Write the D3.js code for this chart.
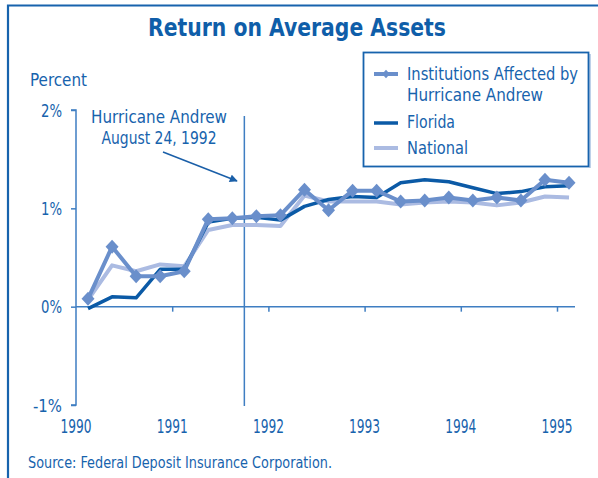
<!DOCTYPE html>
<html>
<head>
<meta charset="utf-8">
<script src="https://cdn.jsdelivr.net/npm/d3@7"></script>
<style>
  html, body { margin: 0; padding: 0; background: #ffffff; }
  svg { display: block; }
  text { font-family: 'Liberation Sans Narrow', 'DejaVu Sans Condensed', 'Roboto', sans-serif; }
</style>
</head>
<body>
<svg id="chart" width="598" height="478"></svg>
<script>
// ---- data ----
const periods = [1990.125, 1990.375, 1990.625, 1990.875, 1991.125, 1991.375, 1991.625, 1991.875,
                 1992.125, 1992.375, 1992.625, 1992.875, 1993.125, 1993.375, 1993.625, 1993.875,
                 1994.125, 1994.375, 1994.625, 1994.875, 1995.125];
const institutions = [0.08, 0.61, 0.31, 0.31, 0.36, 0.89, 0.90, 0.92, 0.93, 1.19, 0.98,
                      1.18, 1.18, 1.07, 1.08, 1.11, 1.08, 1.11, 1.08, 1.29, 1.26];
const florida = [-0.02, 0.10, 0.09, 0.38, 0.38, 0.86, 0.90, 0.91, 0.88, 1.02, 1.09,
                 1.12, 1.11, 1.26, 1.29, 1.27, 1.21, 1.15, 1.17, 1.22, 1.23];
const national = [0.07, 0.42, 0.36, 0.43, 0.41, 0.78, 0.83, 0.83, 0.82, 1.13, 1.07,
                  1.07, 1.07, 1.04, 1.06, 1.07, 1.06, 1.03, 1.06, 1.12, 1.11];
const yearTicks = [1990, 1991, 1992, 1993, 1994, 1995];
const yTicks = [-1, 0, 1, 2];
const yTickLabels = ["-1%", "0%", "1%", "2%"];
const hurricaneDate = 1991.75;
const title = "Return on Average Assets";
const seriesNames = ["Institutions Affected by|Hurricane Andrew", "Florida", "National"];

// ---- styles ----
const C_TEXT = "#1763ad";
const C_AXIS = "#3f7ec2";
const C_INST = "#6a8fcb";
const C_FLA = "#0b5aa6";
const C_NAT = "#abbbe2";

const svg = d3.select("#chart");

function txt(sel, s, x, y, size, len, anchor) {
  const t = sel.append("text")
    .attr("x", x).attr("y", y)
    .attr("fill", C_TEXT).attr("font-size", size)
    .attr("text-anchor", anchor || "start")
    .text(s);
  if (len) t.attr("textLength", len).attr("lengthAdjust", "spacingAndGlyphs");
  return t;
}

// frame
svg.append("path")
  .attr("d", "M8,478 V5.5 H598")
  .attr("fill", "none").attr("stroke", "#1763ad").attr("stroke-width", 2.2);

// title
txt(svg, title, 297, 36, 25, 298, "middle")
  .attr("fill", "#0f5ea9").attr("font-weight", "bold");

const x = d3.scaleLinear().domain([1990, 1995]).range([76, 557]);
const y = d3.scaleLinear().domain([-1, 2]).range([405, 110]);

// y axis
const yAxis = d3.axisLeft(y).tickValues(yTicks).tickSize(5).tickFormat(() => "");
const gy = svg.append("g").attr("transform", "translate(76,0)").call(yAxis);
gy.select(".domain").attr("stroke", C_AXIS).attr("stroke-width", 1.5).attr("d", `M-5,${y(2)}H0V${y(-1)}H-5`);
gy.selectAll(".tick line").attr("stroke", C_AXIS).attr("stroke-width", 1.5);

const yLabW = { "-1%": 29, "0%": 21, "1%": 21, "2%": 21 };
yTicks.forEach((v, i) => {
  txt(svg, yTickLabels[i], 62, y(v) + 6.5, 18, yLabW[yTickLabels[i]], "end");
});

txt(svg, "Percent", 30, 86, 18, 57);

// x axis at 0%
const xAxis = d3.axisBottom(x).tickValues(yearTicks.slice(1)).tickSize(5).tickFormat(() => "");
const gx = svg.append("g").attr("transform", `translate(0,${y(0)})`).call(xAxis);
gx.select(".domain").attr("stroke", C_AXIS).attr("stroke-width", 1.5).attr("d", `M76,0H575`);
gx.selectAll(".tick line").attr("stroke", C_AXIS).attr("stroke-width", 1.5);

yearTicks.forEach(v => {
  txt(svg, String(v), x(v), 433, 19, 31, "middle");
});

// hurricane line
svg.append("line")
  .attr("x1", x(hurricaneDate)).attr("x2", x(hurricaneDate))
  .attr("y1", 116).attr("y2", 406)
  .attr("stroke", C_AXIS).attr("stroke-width", 1.5);

txt(svg, "Hurricane Andrew", 159, 123, 17.5, 136, "middle");
txt(svg, "August 24, 1992", 159, 144, 17.5, 115, "middle");

svg.append("defs").append("marker")
  .attr("id", "arrow").attr("viewBox", "0 0 10 10")
  .attr("refX", 9).attr("refY", 5)
  .attr("markerWidth", 10).attr("markerHeight", 8)
  .attr("markerUnits", "userSpaceOnUse")
  .attr("orient", "auto")
  .append("path").attr("d", "M0,0 L10,5 L0,10 Z").attr("fill", "#1a5fa8");

svg.append("line")
  .attr("x1", 163).attr("y1", 152)
  .attr("x2", 237).attr("y2", 181)
  .attr("stroke", "#1a5fa8").attr("stroke-width", 1.5)
  .attr("marker-end", "url(#arrow)");

// lines
const line = d3.line().x((d, i) => x(periods[i])).y(d => y(d));

svg.append("path").datum(national)
  .attr("d", line).attr("fill", "none")
  .attr("stroke", C_NAT).attr("stroke-width", 4).attr("stroke-linejoin", "round");

svg.append("path").datum(florida)
  .attr("d", line).attr("fill", "none")
  .attr("stroke", C_FLA).attr("stroke-width", 3.5).attr("stroke-linejoin", "round");

svg.append("path").datum(institutions)
  .attr("d", line).attr("fill", "none")
  .attr("stroke", C_INST).attr("stroke-width", 4).attr("stroke-linejoin", "round");

const diamond = "M0,-7L6.5,0L0,7L-6.5,0Z";
svg.append("g").selectAll("path").data(institutions).join("path")
  .attr("transform", (d, i) => `translate(${x(periods[i])},${y(d)})`)
  .attr("d", diamond).attr("fill", C_INST);

// legend
const lg = svg.append("g");
lg.append("line").attr("x1", 590).attr("x2", 590).attr("y1", 54).attr("y2", 168)
  .attr("stroke", "#a9c2e2").attr("stroke-width", 1.5);
lg.append("rect")
  .attr("x", 363.5).attr("y", 52.5).attr("width", 225).attr("height", 114)
  .attr("fill", "#fff").attr("stroke", "#1763ad").attr("stroke-width", 1.8);

const lx1 = 374, lx2 = 398, tx = 407;
const legendRows = [
  { color: C_INST, w: 4, ly: 74, marker: true },
  { color: C_FLA, w: 3.5, ly: 123, marker: false },
  { color: C_NAT, w: 4, ly: 148, marker: false }
];
const textRows = [[80, 101], [128], [154]];
const textLens = [[171, 136], [48], [61]];
legendRows.forEach((r, i) => {
  lg.append("line").attr("x1", lx1).attr("x2", lx2).attr("y1", r.ly).attr("y2", r.ly)
    .attr("stroke", r.color).attr("stroke-width", r.w);
  if (r.marker) {
    lg.append("path").attr("transform", `translate(${(lx1 + lx2) / 2},${r.ly}) scale(0.6)`)
      .attr("d", diamond).attr("fill", r.color);
  }
  seriesNames[i].split("|").forEach((t, j) => {
    txt(lg, t, tx, textRows[i][j], 17, textLens[i][j]);
  });
});

// source
txt(svg, "Source: Federal Deposit Insurance Corporation.", 28, 468, 15, 304);
</script>
</body>
</html>
